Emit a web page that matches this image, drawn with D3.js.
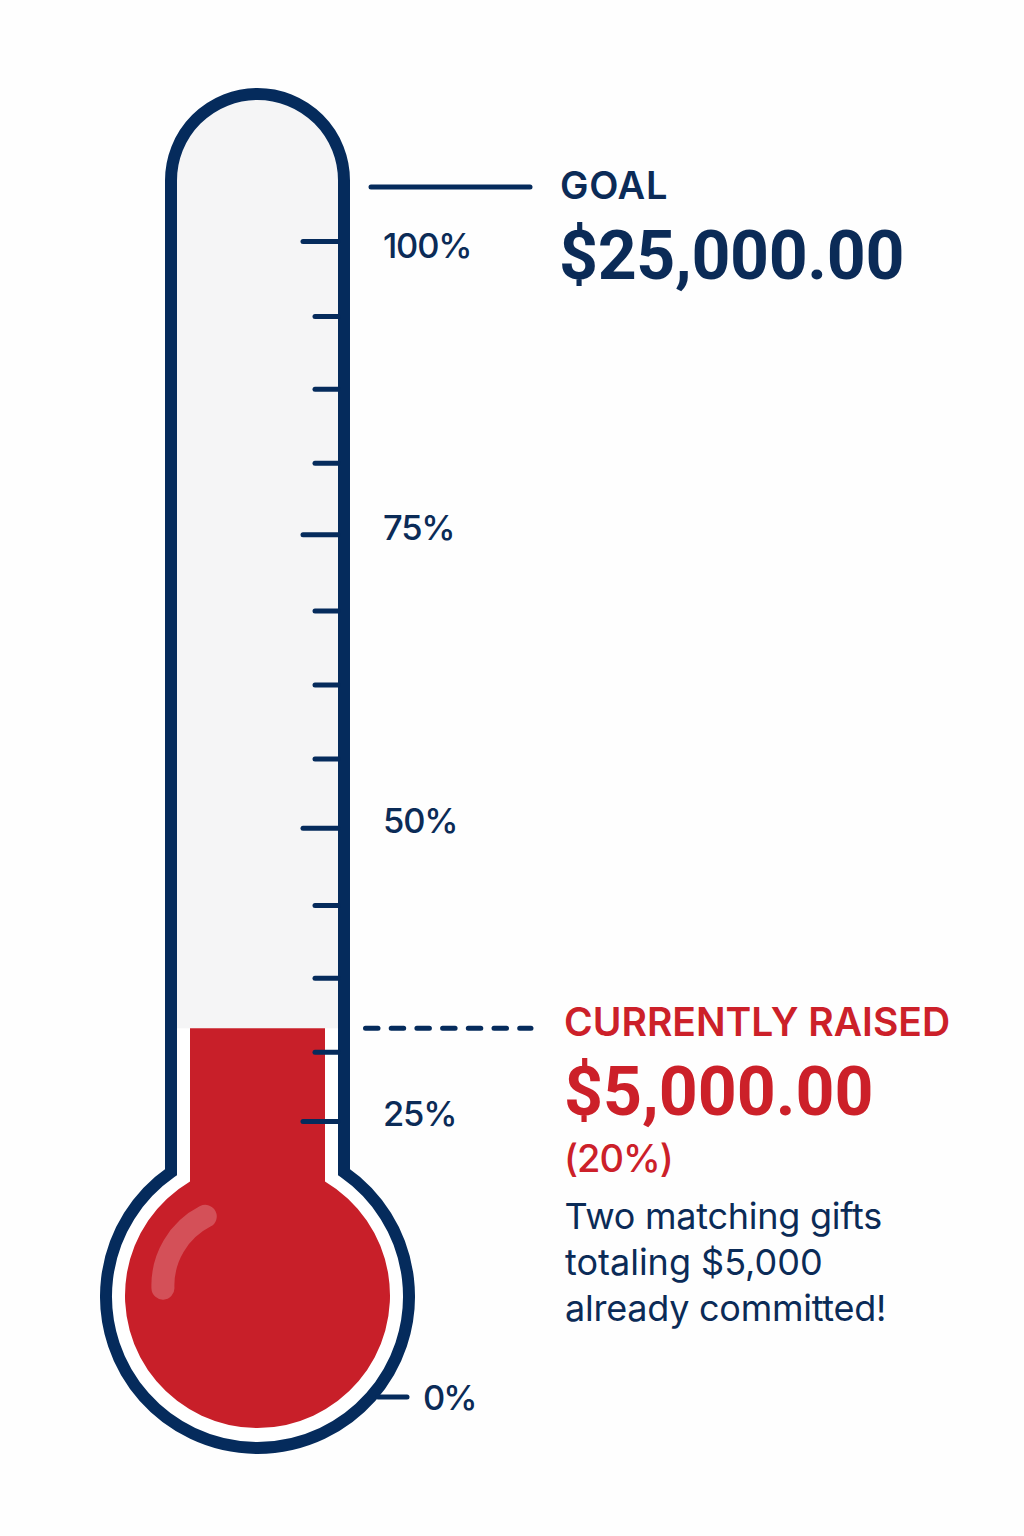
<!DOCTYPE html>
<html>
<head>
<meta charset="utf-8">
<script src="https://cdn.jsdelivr.net/npm/d3@7"></script>
<style>
  html, body { margin: 0; padding: 0; background: #fefefe; }
  text { font-family: Inter, "Noto Sans", sans-serif; }
</style>
</head>
<body>
<div class="chart"></div>
<script>
// DATA ------------------------------
const majorTicks = [100, 75, 50, 25];
const minorTicks = [93.6, 87.4, 81.1, 68.5, 62.2, 55.9, 43.4, 37.2, 30.9];
const zeroTick = [0];
const goalLevel = 104.6;
const raisedLevel = 32.9; // where the red column stops on the tube's own scale
const goalLines = ["GOAL", "$25,000.00"];
const raisedLines = ["CURRENTLY RAISED", "$5,000.00", "(20%)"];
const noteLines = ["Two matching gifts", "totaling $5,000", "already committed!"];

const navy = "#052b5c", red = "#c81f29", redText = "#cc2029", textNavy = "#0b2b57";

const width = 1024, height = 1536;

let svg = d3.select(".chart").append("svg")
  .attr("width", width)
  .attr("height", height)
  .style("display", "block");

// scale: 0% sits up on the bulb, so the bottom stretch is shorter
let y = d3.scaleLinear().domain([0, 25, 100]).range([1396.5, 1121, 241]);

// THERMOMETER ------------------------------
const cx = 257.5, halfTube = 86.5, capY = 180.5;
const bulbY = 1296.5, bulbR = 151.5;
const joinAngle = Math.asin(halfTube / bulbR);

function outline() {
  let p = d3.path();
  p.moveTo(cx - halfTube, bulbY - bulbR * Math.cos(joinAngle));
  p.lineTo(cx - halfTube, capY);
  p.arc(cx, capY, halfTube, Math.PI, 2 * Math.PI);
  p.lineTo(cx + halfTube, bulbY - bulbR * Math.cos(joinAngle));
  p.arc(cx, bulbY, bulbR, -Math.PI / 2 + joinAngle, -Math.PI / 2 - joinAngle + 2 * Math.PI);
  p.closePath();
  return p.toString();
}

svg.append("clipPath").attr("id", "inside").append("path").attr("d", outline());

svg.append("path").attr("d", outline()).attr("fill", "#ffffff");

svg.append("rect")
  .attr("clip-path", "url(#inside)")
  .attr("x", cx - halfTube).attr("y", 0)
  .attr("width", halfTube * 2)
  .attr("height", y(raisedLevel))
  .attr("fill", "#f5f5f6");

// red column and bulb
const colHalf = 67.5, liquidR = 132.5, liquidY = 1295.5;
const liquidAngle = Math.asin(colHalf / liquidR);
let liquid = d3.path();
liquid.moveTo(cx - colHalf, y(raisedLevel));
liquid.lineTo(cx + colHalf, y(raisedLevel));
liquid.lineTo(cx + colHalf, liquidY - liquidR * Math.cos(liquidAngle));
liquid.arc(cx, liquidY, liquidR, -Math.PI / 2 + liquidAngle, -Math.PI / 2 - liquidAngle + 2 * Math.PI);
liquid.closePath();
svg.append("path").attr("d", liquid.toString()).attr("fill", red);

// highlight on the bulb
let shine = d3.path();
shine.arc(cx - 17, 1285.5, 77.6, -Math.PI * 0.65, -Math.PI * 1.011, true);
svg.append("path")
  .attr("d", shine.toString())
  .attr("fill", "none")
  .attr("stroke", "#ffffff")
  .attr("stroke-opacity", 0.22)
  .attr("stroke-width", 23)
  .attr("stroke-linecap", "round");

svg.append("path")
  .attr("d", outline())
  .attr("fill", "none")
  .attr("stroke", navy)
  .attr("stroke-width", 12);

// AXES ------------------------------
function tickAxis(values, size) {
  return d3.axisLeft(y).tickValues(values).tickSize(size).tickFormat("");
}
function drawTicks(axis, x) {
  let g = svg.append("g").attr("transform", "translate(" + x + ",0)").call(axis);
  g.select(".domain").remove();
  g.selectAll("line")
    .attr("stroke", navy)
    .attr("stroke-width", 5)
    .attr("stroke-linecap", "round");
  return g;
}
drawTicks(tickAxis(majorTicks, 35), 338);
drawTicks(tickAxis(minorTicks, 23), 338);
drawTicks(d3.axisRight(y).tickValues(zeroTick).tickSize(29).tickFormat(""), 378);

// tick labels don't line up exactly with their ticks
svg.selectAll(".pct")
  .data(majorTicks)
  .join("text")
  .attr("class", "pct")
  .attr("x", 383)
  .attr("y", d => y(d) + (d === 100 ? 4.5 : -7))
  .attr("dy", "0.36em")
  .attr("font-size", 34.5)
  .attr("font-weight", 500)
  .attr("letter-spacing", -1.2)
  .attr("fill", textNavy)
  .text(d => d + "%");

svg.selectAll(".pct0")
  .data(zeroTick)
  .join("text")
  .attr("class", "pct0")
  .attr("x", 423)
  .attr("y", d => y(d) + 1)
  .attr("dy", "0.36em")
  .attr("font-size", 34.5)
  .attr("font-weight", 500)
  .attr("letter-spacing", -2)
  .attr("fill", textNavy)
  .text(d => d + "%");

// LEADERS ------------------------------
svg.append("line")
  .attr("x1", 371).attr("x2", 530)
  .attr("y1", y(goalLevel)).attr("y2", y(goalLevel))
  .attr("stroke", navy).attr("stroke-width", 5).attr("stroke-linecap", "round");

svg.append("line")
  .attr("x1", 365.5).attr("x2", 531)
  .attr("y1", y(raisedLevel)).attr("y2", y(raisedLevel))
  .attr("stroke", navy).attr("stroke-width", 5)
  .attr("stroke-linecap", "round")
  .attr("stroke-dasharray", "12.5 13.2");

// TEXT ------------------------------
function label(str, x, yPos, size, weight, color, family, spacing) {
  svg.append("text")
    .attr("x", x).attr("y", yPos)
    .attr("font-size", size)
    .attr("font-weight", weight)
    .attr("fill", color)
    .attr("letter-spacing", spacing || 0)
    .style("font-family", family || null)
    .text(str);
}
label(goalLines[0], 560, 199, 38, 600, textNavy, null, 0.7);
label(goalLines[1], 559, 279, 68, 700, textNavy, "Roboto", -0.35);
label(raisedLines[0], 564, 1036, 39, 600, redText);
label(raisedLines[1], 564, 1115, 68, 700, redText, "Roboto");
label(raisedLines[2], 564, 1172, 38, 500, redText, null, -1);
label(noteLines[0], 564.5, 1229, 36, 400, textNavy, null, -0.25);
label(noteLines[1], 565, 1275, 36, 400, textNavy);
label(noteLines[2], 565, 1321, 36, 400, textNavy, null, -0.25);
</script>
</body>
</html>
